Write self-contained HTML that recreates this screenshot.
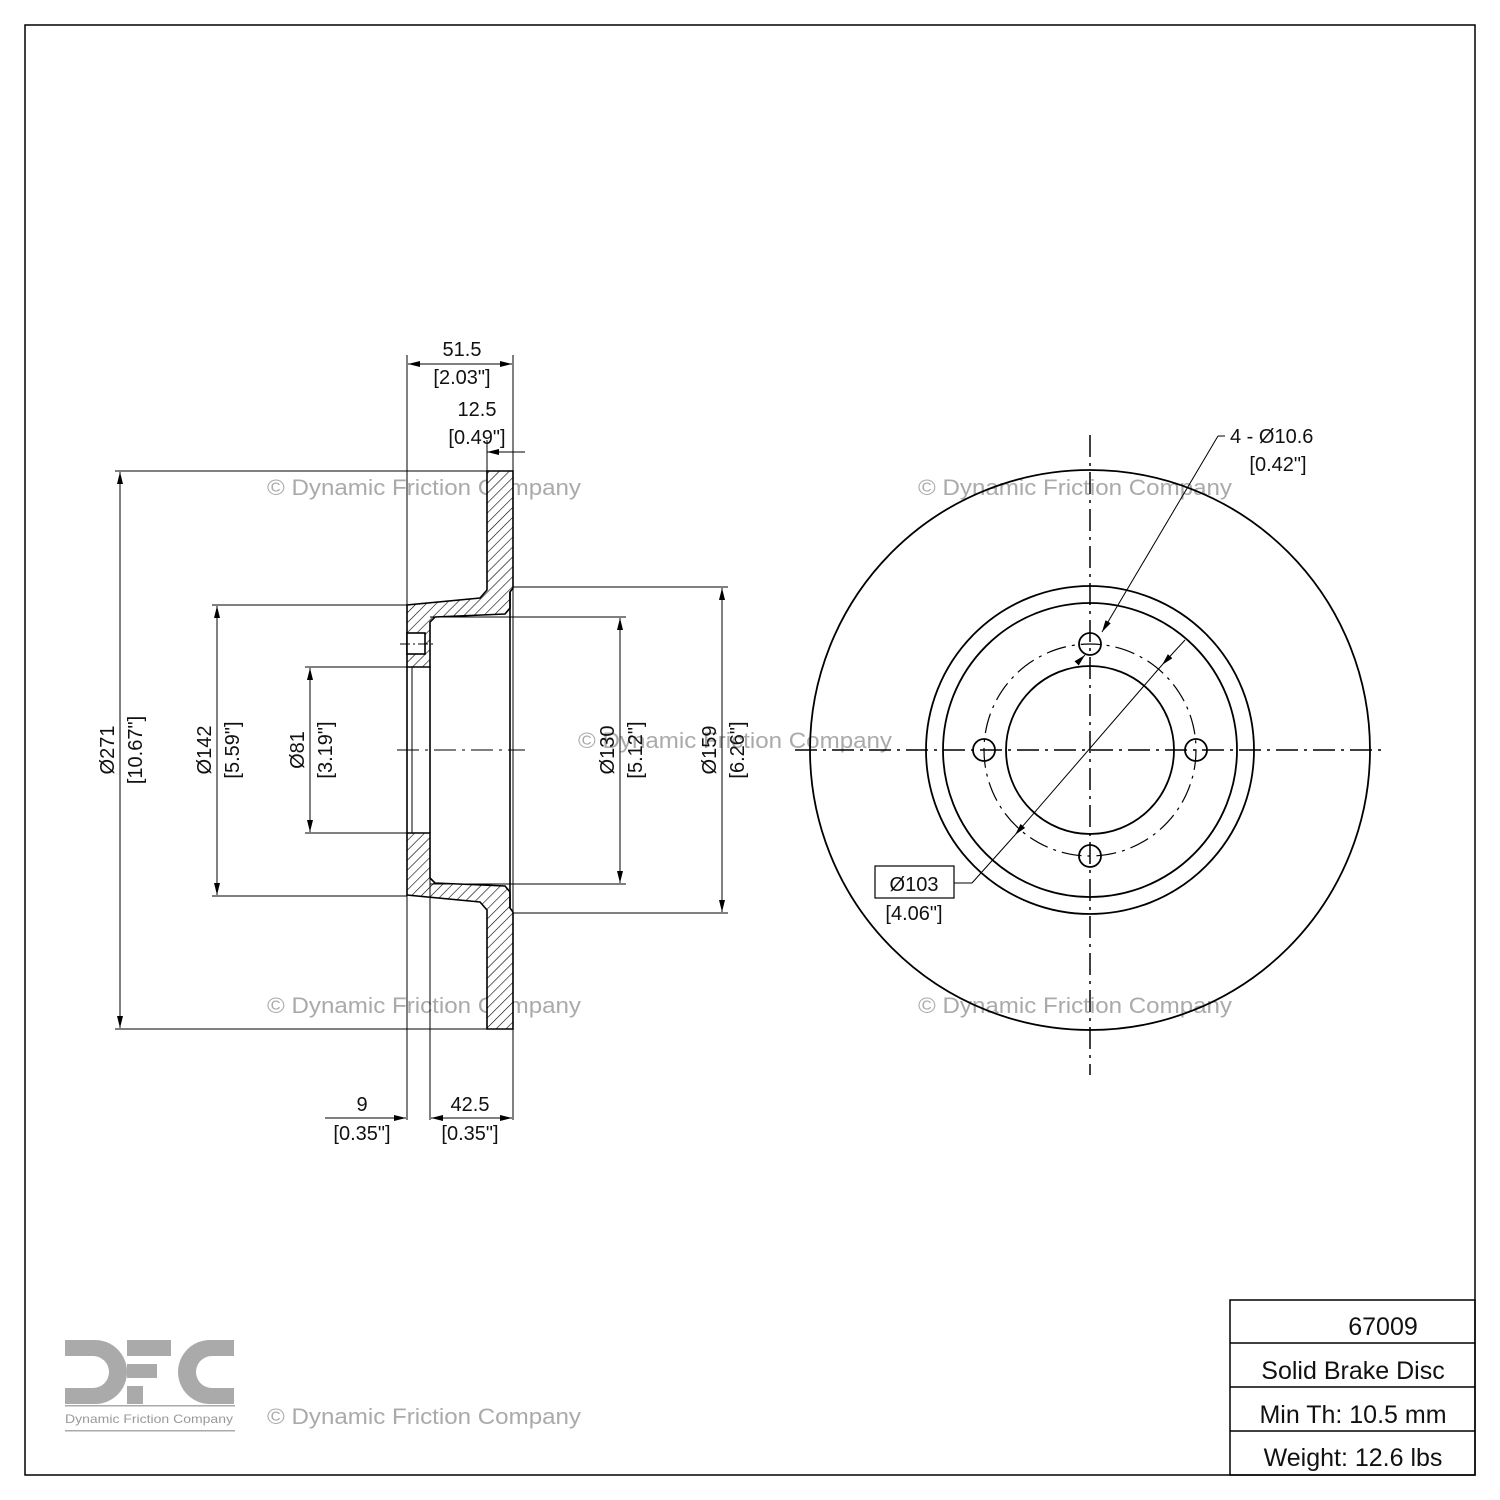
<!DOCTYPE html>
<html><head><meta charset="utf-8"><style>
html,body{margin:0;padding:0;background:#fff;}
svg{display:block;}
text{font-family:"Liberation Sans",sans-serif;fill:#111;}
.wm{fill:#aaa;font-size:22px;}
.d{font-size:20px;}
</style></head><body>
<svg width="1500" height="1500" viewBox="0 0 1500 1500" xmlns="http://www.w3.org/2000/svg">
<defs>
<pattern id="h" patternUnits="userSpaceOnUse" width="7" height="7" patternTransform="rotate(45)">
<rect width="7" height="7" fill="#fff"/><line x1="0" y1="0" x2="0" y2="7" stroke="#000" stroke-width="1.2"/></pattern>
<marker id="a" markerWidth="12" markerHeight="8" refX="12" refY="4" orient="auto-start-reverse" markerUnits="userSpaceOnUse"><path d="M0,1 L12,4 L0,7 z" fill="#000"/></marker>
</defs>
<rect x="25" y="25" width="1450" height="1450" fill="none" stroke="#000" stroke-width="1.5"/>

<!-- watermarks -->
<text class="wm" x="267" y="495" textLength="314" lengthAdjust="spacingAndGlyphs">© Dynamic Friction Company</text>
<text class="wm" x="918" y="495" textLength="314" lengthAdjust="spacingAndGlyphs">© Dynamic Friction Company</text>
<text class="wm" x="578" y="748" textLength="314" lengthAdjust="spacingAndGlyphs">© Dynamic Friction Company</text>
<text class="wm" x="267" y="1013" textLength="314" lengthAdjust="spacingAndGlyphs">© Dynamic Friction Company</text>
<text class="wm" x="918" y="1013" textLength="314" lengthAdjust="spacingAndGlyphs">© Dynamic Friction Company</text>
<text class="wm" x="267" y="1424" textLength="314" lengthAdjust="spacingAndGlyphs">© Dynamic Friction Company</text>

<!-- cross section -->
<g stroke="#000" stroke-width="1.6">
<path d="M487,471 L513,471 L513,588 L510,592 L510,608 L505,614 L435,617 L430,622 L430,667 L407,667 L407,605 L480,598 L487,590 Z" fill="url(#h)"/>
<path d="M487,1029 L513,1029 L513,912 L510,908 L510,892 L505,886 L435,883 L430,878 L430,833 L407,833 L407,895 L480,902 L487,910 Z" fill="url(#h)"/>
<rect x="407" y="633" width="18" height="21" fill="#fff"/>
<line x1="407" y1="667" x2="407" y2="833"/><line x1="430" y1="667" x2="430" y2="833"/>
<line x1="412" y1="667" x2="412" y2="833" stroke-width="1"/>
<line x1="510" y1="592" x2="510" y2="908"/>
</g>
<line x1="400" y1="644" x2="434" y2="644" stroke="#000" stroke-dasharray="10,3,2,3"/>
<line x1="397" y1="750" x2="525" y2="750" stroke="#000" stroke-dasharray="22,6,3,6"/>

<g stroke="#000" stroke-width="1">
<line x1="407" y1="355" x2="407" y2="1120"/><line x1="513" y1="355" x2="513" y2="1120"/>
<line x1="487" y1="440" x2="487" y2="471"/><line x1="430" y1="833" x2="430" y2="1120"/>
<line x1="115" y1="471" x2="487" y2="471"/><line x1="115" y1="1029" x2="487" y2="1029"/>
<line x1="212" y1="605" x2="407" y2="605"/><line x1="212" y1="896" x2="407" y2="896"/>
<line x1="305" y1="667" x2="407" y2="667"/><line x1="305" y1="833" x2="407" y2="833"/>
<line x1="513" y1="587" x2="728" y2="587"/><line x1="513" y1="913" x2="728" y2="913"/>
<line x1="430" y1="617" x2="626" y2="617"/><line x1="430" y1="884" x2="626" y2="884"/>
<line x1="120" y1="472" x2="120" y2="1028" marker-start="url(#a)" marker-end="url(#a)"/>
<line x1="217" y1="606" x2="217" y2="895" marker-start="url(#a)" marker-end="url(#a)"/>
<line x1="310" y1="668" x2="310" y2="832" marker-start="url(#a)" marker-end="url(#a)"/>
<line x1="620" y1="618" x2="620" y2="883" marker-start="url(#a)" marker-end="url(#a)"/>
<line x1="722" y1="588" x2="722" y2="912" marker-start="url(#a)" marker-end="url(#a)"/>
<line x1="408" y1="364" x2="512" y2="364" marker-start="url(#a)" marker-end="url(#a)"/>
<line x1="487" y1="452" x2="525" y2="452" marker-start="url(#a)"/>
<line x1="325" y1="1118" x2="406" y2="1118" marker-end="url(#a)"/>
<line x1="431" y1="1118" x2="512" y2="1118" marker-start="url(#a)" marker-end="url(#a)"/>
</g>
<text class="d" x="462" y="356" text-anchor="middle">51.5</text>
<text class="d" x="462" y="384" text-anchor="middle">[2.03"]</text>
<text class="d" x="477" y="416" text-anchor="middle">12.5</text>
<text class="d" x="477" y="444" text-anchor="middle">[0.49"]</text>
<text class="d" x="362" y="1111" text-anchor="middle">9</text>
<text class="d" x="362" y="1140" text-anchor="middle">[0.35"]</text>
<text class="d" x="470" y="1111" text-anchor="middle">42.5</text>
<text class="d" x="470" y="1140" text-anchor="middle">[0.35"]</text>
<text transform="translate(114,750) rotate(-90)" text-anchor="middle" class="d">Ø271</text>
<text transform="translate(142,750) rotate(-90)" text-anchor="middle" class="d">[10.67"]</text>
<text transform="translate(211,750) rotate(-90)" text-anchor="middle" class="d">Ø142</text>
<text transform="translate(239,750) rotate(-90)" text-anchor="middle" class="d">[5.59"]</text>
<text transform="translate(304,750) rotate(-90)" text-anchor="middle" class="d">Ø81</text>
<text transform="translate(332,750) rotate(-90)" text-anchor="middle" class="d">[3.19"]</text>
<text transform="translate(614,750) rotate(-90)" text-anchor="middle" class="d">Ø130</text>
<text transform="translate(642,750) rotate(-90)" text-anchor="middle" class="d">[5.12"]</text>
<text transform="translate(716,750) rotate(-90)" text-anchor="middle" class="d">Ø159</text>
<text transform="translate(744,750) rotate(-90)" text-anchor="middle" class="d">[6.26"]</text>

<!-- front view -->
<g stroke="#000" stroke-width="1.8" fill="none">
<circle cx="1090" cy="750" r="280"/>
<circle cx="1090" cy="750" r="164"/>
<circle cx="1090" cy="750" r="147"/>
<circle cx="1090" cy="750" r="84"/>
<circle cx="1090" cy="644" r="11" fill="#fff"/>
<circle cx="984" cy="750" r="11" fill="#fff"/>
<circle cx="1196" cy="750" r="11" fill="#fff"/>
<circle cx="1090" cy="856" r="11" fill="#fff"/>
</g>
<circle cx="1090" cy="750" r="106" fill="none" stroke="#000" stroke-width="1.2" stroke-dasharray="20,6,3,6"/>
<line x1="1090" y1="435" x2="1090" y2="1075" stroke="#000" stroke-width="1.5" stroke-dasharray="22,6,3,6"/>
<line x1="795" y1="750" x2="1385" y2="750" stroke="#000" stroke-width="1.5" stroke-dasharray="22,6,3,6"/>
<g stroke="#000" stroke-width="1">
<line x1="1225" y1="436" x2="1218" y2="436"/>
<line x1="1218" y1="436" x2="1102" y2="632" marker-end="url(#a)"/>
<line x1="1077" y1="663" x2="1085" y2="655" marker-end="url(#a)"/>
<line x1="1185" y1="640" x2="1162" y2="665" marker-end="url(#a)"/>
<line x1="1162" y1="665" x2="1015" y2="835" marker-end="url(#a)"/>
<line x1="1015" y1="835" x2="972" y2="883"/>
<line x1="954" y1="883" x2="972" y2="883"/>
</g>
<text class="d" x="1230" y="443">4 - Ø10.6</text>
<text class="d" x="1278" y="471" text-anchor="middle">[0.42"]</text>
<rect x="875" y="866" width="79" height="32" fill="none" stroke="#000" stroke-width="1.2"/>
<text class="d" x="914" y="891" text-anchor="middle">Ø103</text>
<text class="d" x="914" y="920" text-anchor="middle">[4.06"]</text>

<!-- table -->
<g stroke="#000" stroke-width="1.5" fill="none">
<rect x="1230" y="1300" width="245" height="175"/>
<line x1="1230" y1="1343" x2="1475" y2="1343"/>
<line x1="1230" y1="1387" x2="1475" y2="1387"/>
<line x1="1230" y1="1431" x2="1475" y2="1431"/>
</g>
<text x="1383" y="1335" text-anchor="middle" font-size="25">67009</text>
<text x="1353" y="1379" text-anchor="middle" font-size="25">Solid Brake Disc</text>
<text x="1353" y="1423" text-anchor="middle" font-size="25">Min Th: 10.5 mm</text>
<text x="1353" y="1466" text-anchor="middle" font-size="25">Weight: 12.6 lbs</text>

<!-- logo -->
<g fill="#aaa">
<path d="M65,1340 H95 A32,32 0 0 1 95,1404 H65 V1388 H93 A16,16 0 0 0 93,1356 H65 Z"/>
<rect x="127" y="1340" width="44" height="16"/>
<rect x="127" y="1364" width="30" height="14"/>
<rect x="127" y="1386" width="16" height="18"/>
<path d="M234,1340 H210 A32,32 0 0 0 210,1404 H234 V1388 H212 A16,16 0 0 1 212,1356 H234 Z"/>
<rect x="65" y="1405" width="170" height="1.5"/>
<rect x="65" y="1430" width="170" height="1.5"/>
</g>
<text x="65" y="1423" font-size="12" style="fill:#999" textLength="168" lengthAdjust="spacingAndGlyphs">Dynamic Friction Company</text>
</svg>
</body></html>
